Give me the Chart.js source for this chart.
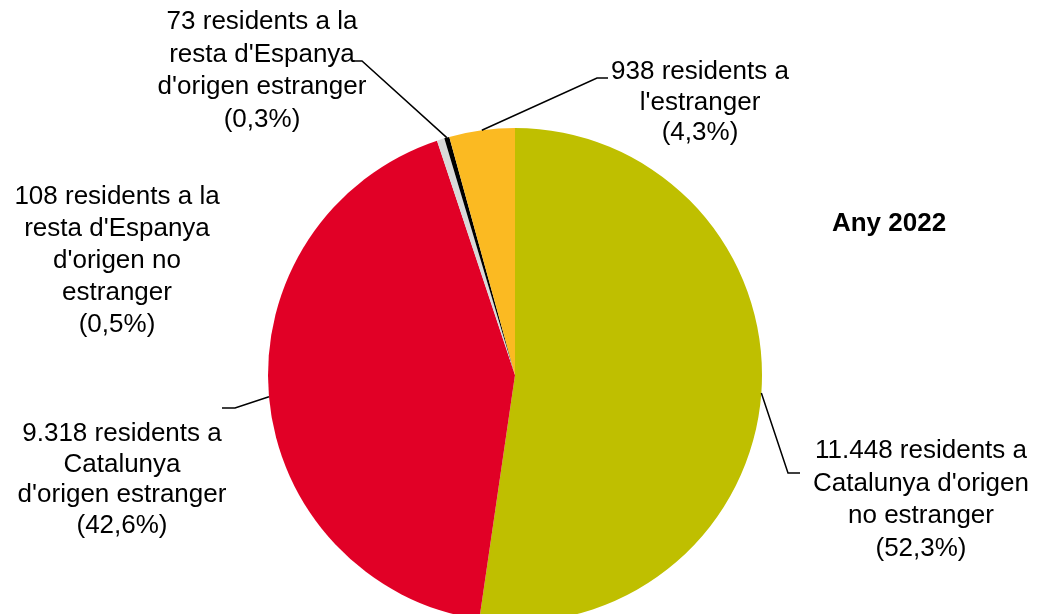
<!DOCTYPE html>
<html>
<head>
<meta charset="utf-8">
<script src="https://cdn.jsdelivr.net/npm/chart.js@4"></script>
<style>
  html, body { margin: 0; padding: 0; background: #fff; overflow: hidden; }
  #wrap { position: relative; width: 1039px; height: 700px; }
</style>
</head>
<body>
<div id="wrap"><canvas id="pieChart"></canvas></div>
<script>
const categories = [
    "residents a Catalunya d'origen no estranger",
    "residents a Catalunya d'origen estranger",
    "residents a la resta d'Espanya d'origen no estranger",
    "residents a la resta d'Espanya d'origen estranger",
    "residents a l'estranger"
];
const residents = [11448, 9318, 108, 73, 938];
const sliceColors = ['#BFBF00', '#E10026', '#D9D9D9', '#000000', '#FBBA22'];
const yearTitle = 'Any 2022';

// label text lines (count + share) per slice, written as in the original
const labelLines = [
    ['11.448 residents a', "Catalunya d'origen", 'no estranger', '(52,3%)'],
    ['9.318 residents a', 'Catalunya', "d'origen estranger", '(42,6%)'],
    ['108 residents a la', "resta d'Espanya", "d'origen no", 'estranger', '(0,5%)'],
    ['73 residents a la', "resta d'Espanya", "d'origen estranger", '(0,3%)'],
    ['938 residents a', "l'estranger", '(4,3%)']
];

// label placement (centre x, first baseline-middle y, line step) and leader elbows
const labelLayout = [
    { x: 921, y: 451, step: 32.5, elbow: [788, 473], end: [800, 473] },
    { x: 122, y: 434, step: 30.5, elbow: [235, 408], end: [222, 408] },
    { x: 117, y: 197, step: 32, elbow: null },
    { x: 262, y: 22, step: 32.5, elbow: [362, 61], end: [352, 61] },
    { x: 700, y: 72, step: 30.5, elbow: [597, 78], end: [608, 78] }
];

const labelPlugin = {
    id: 'pieLabels',
    afterDraw(chart) {
        const c = chart.ctx;
        const meta = chart.getDatasetMeta(0);
        c.save();
        c.font = '26px "Liberation Sans", Arial, sans-serif';
        c.fillStyle = '#000';
        c.textAlign = 'center';
        c.textBaseline = 'middle';
        labelLines.forEach((lines, i) => {
            const lay = labelLayout[i];
            lines.forEach((t, k) => c.fillText(t, lay.x, lay.y + k * lay.step));
            if (lay.elbow) {
                const arc = meta.data[i];
                const p = arc.getProps(['x', 'y', 'startAngle', 'endAngle', 'outerRadius'], true);
                const mid = (p.startAngle + p.endAngle) / 2;
                const ex = p.x + p.outerRadius * Math.cos(mid);
                const ey = p.y + p.outerRadius * Math.sin(mid);
                c.beginPath();
                c.strokeStyle = '#000';
                c.lineWidth = 1.5;
                c.moveTo(ex, ey);
                c.lineTo(lay.elbow[0], lay.elbow[1]);
                c.lineTo(lay.end[0], lay.end[1]);
                c.stroke();
            }
        });
        c.font = 'bold 26px "Liberation Sans", Arial, sans-serif';
        c.fillText(yearTitle, 889, 224);
        c.restore();
    }
};

const ctx = document.getElementById('pieChart').getContext('2d');
const chart = new Chart(ctx, {
    type: 'pie',
    data: {
        labels: categories,
        datasets: [{
            data: residents,
            backgroundColor: sliceColors,
            borderWidth: 0
        }]
    },
    options: {
        responsive: true,
        maintainAspectRatio: false,
        animation: false,
        layout: { padding: { left: 268, right: 277, top: 128, bottom: 78 } },
        plugins: {
            legend: { display: false },
            tooltip: { enabled: false }
        }
    },
    plugins: [labelPlugin]
});
</script>
</body>
</html>
